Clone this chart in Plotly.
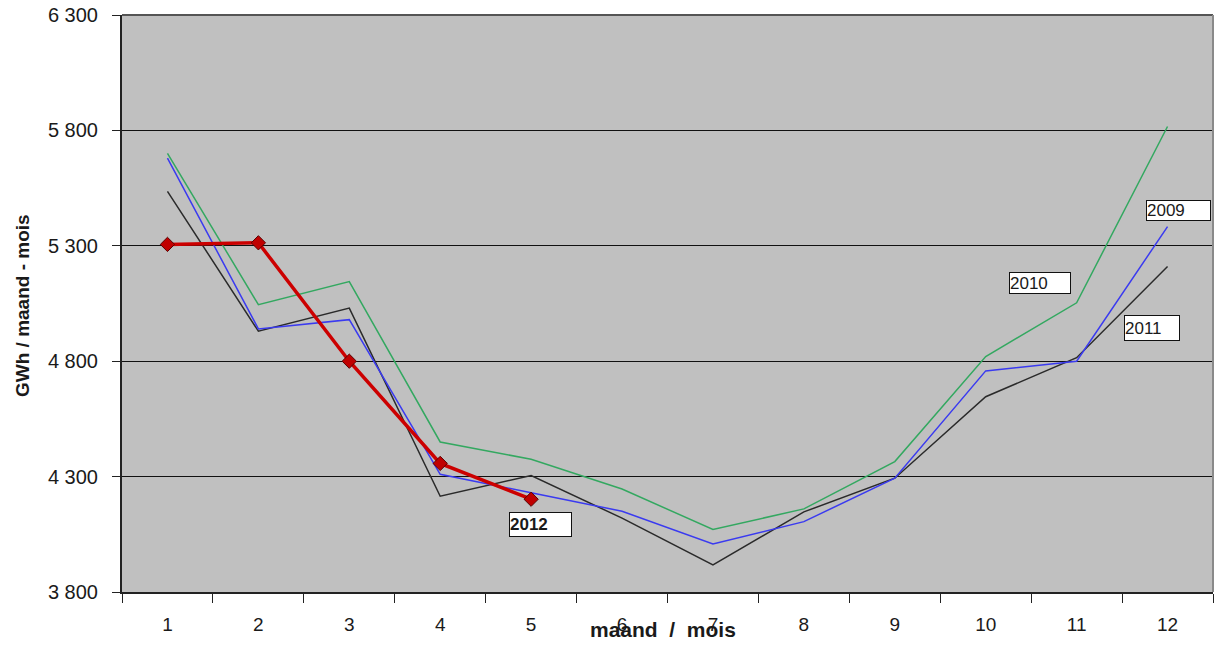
import plotly.graph_objects as go

months = list(range(1, 13))
y2009 = [5680, 4940, 4980, 4310, 4230, 4150, 4008, 4105, 4293, 4758, 4800, 5383]
y2010 = [5700, 5045, 5145, 4450, 4375, 4246, 4071, 4160, 4365, 4820, 5053, 5817]
y2011 = [5536, 4930, 5030, 4215, 4305, 4120, 3917, 4147, 4293, 4646, 4815, 5210]
y2012 = [5306, 5313, 4800, 4357, 4202]
month_labels = [str(m) for m in months]
y_ticks = [3800, 4300, 4800, 5300, 5800, 6300]

# page body has an 8px margin; compensate so the plot area sits at
# x 122..1213, y 15..592 in the 1225x661 window
OFF = 8
W, H = 1225 - OFF, 661 - OFF
L, T = 122 - OFF, 15 - OFF
pw, ph = 1091, 577
R = W - L - pw
B = H - T - ph

def px(x):
    return (x - 122) / pw

def py(y):
    return (592 - y) / ph

fig = go.Figure()
fig.add_trace(go.Scatter(x=months, y=y2010, mode="lines", name="2010",
                         line=dict(color="#33A860", width=1.5)))
fig.add_trace(go.Scatter(x=months, y=y2011, mode="lines", name="2011",
                         line=dict(color="#2a2a2a", width=1.5)))
fig.add_trace(go.Scatter(x=months, y=y2009, mode="lines", name="2009",
                         line=dict(color="#3a3af0", width=1.5)))
fig.add_trace(go.Scatter(x=months[:len(y2012)], y=y2012, mode="lines+markers", name="2012",
                         line=dict(color="#CC0000", width=3.5),
                         marker=dict(symbol="diamond", size=11, color="#C00000",
                                     line=dict(color="#5a0000", width=1))))

font_family = "Liberation Sans, Arial, sans-serif"

fig.update_layout(
    width=W, height=H,
    margin=dict(l=L, r=R, t=T, b=B, pad=0),
    paper_bgcolor="white",
    plot_bgcolor="#C0C0C0",
    showlegend=False,
    separators=", ",
    font=dict(family=font_family, color="#1a1a1a"),
)

fig.update_xaxes(
    range=[0.5, 12.5], automargin=False,
    tickvals=months, ticktext=month_labels,
    ticks="outside", ticklen=14, tickcolor="rgba(0,0,0,0)",
    tickfont=dict(size=19, family=font_family, color="#1a1a1a"),
    showgrid=False, zeroline=False,
    showline=True, linecolor="#222", linewidth=2,
    minor=dict(tickvals=[m + 0.5 for m in range(0, 13)], ticks="outside",
               ticklen=9, tickcolor="#222", tickwidth=1, showgrid=False),
)
fig.update_yaxes(
    range=[3800, 6300], automargin=False,
    tickvals=y_ticks, tickformat=",d",
    ticks="outside", ticklen=8, tickcolor="#222",
    ticklabelstandoff=10, ticklabeloverflow="allow",
    tickfont=dict(size=20, family=font_family, color="#1a1a1a"),
    showgrid=True, gridcolor="#111", gridwidth=1.2,
    zeroline=False,
    showline=True, linecolor="#222", linewidth=2,
)

# plot-area border on top and right
fig.add_shape(type="line", xref="paper", yref="paper", x0=0, x1=1, y0=1, y1=1,
              line=dict(color="#555", width=2), layer="above")
fig.add_shape(type="line", xref="paper", yref="paper", x0=1, x1=1, y0=0, y1=1,
              line=dict(color="#8a8a8a", width=2), layer="above")

# axis titles
fig.add_annotation(text="<b>maand\u00a0\u00a0/\u00a0\u00a0mois</b>", xref="paper", yref="paper",
                   x=px(663), y=py(630), xanchor="center", yanchor="middle",
                   showarrow=False, font=dict(size=21, family=font_family, color="#1a1a1a"))
fig.add_annotation(text="<b>GWh / maand - mois</b>", xref="paper", yref="paper",
                   x=px(22), y=py(306), xanchor="center", yanchor="middle",
                   textangle=-90, showarrow=False,
                   font=dict(size=19, family=font_family, color="#1a1a1a"))

# series labels
boxes = [
    ("2009", 1146, 200, 63, 19, False),
    ("2010", 1009, 272, 60, 20, False),
    ("2011", 1124, 315, 54, 24, False),
    ("2012", 509, 512, 61, 23, True),
]
for txt, bx, by, bw, bh, bold in boxes:
    fig.add_annotation(text=f"<b>{txt}</b>" if bold else txt,
                       xref="paper", yref="paper", x=px(bx), y=py(by),
                       xanchor="left", yanchor="top", align="left",
                       width=bw, height=bh, showarrow=False,
                       bgcolor="white", bordercolor="#111", borderwidth=1, borderpad=0,
                       font=dict(size=17, family=font_family, color="#1a1a1a"))

fig.write_html("out.html")
